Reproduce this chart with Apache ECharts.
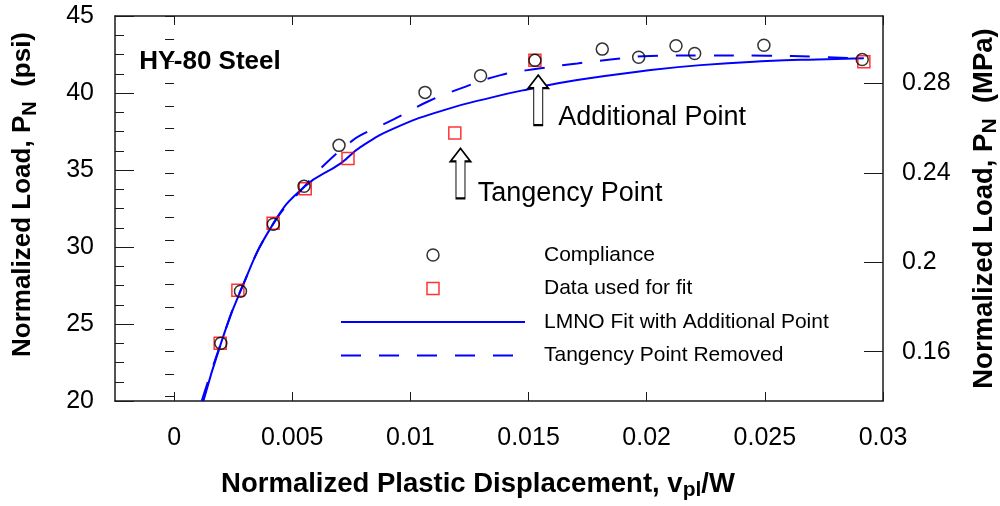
<!DOCTYPE html>
<html><head><meta charset="utf-8">
<script src="https://cdn.jsdelivr.net/npm/echarts@6/dist/echarts.min.js"></script>
<style>html,body{margin:0;padding:0;background:#fff}#c{width:1000px;height:506px}</style>
</head><body><div id="c"></div>
<script>
// ---- data ----
const complianceX = [0.00198, 0.00281, 0.00420, 0.00550, 0.00698, 0.01062, 0.01297, 0.01527, 0.01812, 0.01966, 0.02124, 0.02203, 0.02496, 0.02912];
const complianceY = [23.75, 27.13, 31.48, 33.95, 36.60, 40.04, 41.12, 42.12, 42.85, 42.32, 43.07, 42.57, 43.10, 42.18];
const fitX = [0.00195, 0.00270, 0.00419, 0.00555, 0.00736, 0.01188, 0.01527, 0.02919];
const fitY = [23.75, 27.19, 31.55, 33.78, 35.75, 37.40, 42.12, 42.03];
const lmnoX = [0.00124, 0.00198, 0.00282, 0.00416, 0.00550, 0.00705, 0.00790, 0.00931, 0.01142, 0.01354, 0.01495, 0.01706, 0.02017, 0.02228, 0.02510, 0.02722, 0.02919];
const lmnoY = [20.0, 23.73, 27.19, 31.42, 33.90, 35.43, 36.50, 37.70, 38.89, 39.75, 40.23, 40.84, 41.49, 41.81, 42.07, 42.18, 42.25];
const removedX = [0.00117, 0.00198, 0.00282, 0.00416, 0.00550, 0.00635, 0.00748, 0.00790, 0.00931, 0.01072, 0.01213, 0.01382, 0.01551, 0.01706, 0.01847, 0.02017, 0.02228, 0.02510, 0.02722, 0.02919];
const removedY = [20.0, 23.75, 27.19, 31.42, 33.90, 35.32, 36.83, 37.26, 38.30, 39.43, 40.30, 41.16, 41.60, 41.92, 42.17, 42.40, 42.44, 42.42, 42.35, 42.22];
const xTickValues = [0, 0.005, 0.01, 0.015, 0.02, 0.025, 0.03];
const mpaLabelValues = [0.16, 0.2, 0.24, 0.28];
const mpaMinorValues = [0.14, 0.15, 0.16, 0.17, 0.18, 0.19, 0.2, 0.21, 0.22, 0.23, 0.24, 0.25, 0.26, 0.27, 0.28, 0.29, 0.3, 0.31];
const seriesNames = ['Compliance', 'Data used for fit', 'LMNO Fit with Additional Point', 'Tangency Point Removed'];
const arrowX = [0.01212, 0.01541];
const arrowY = [34.78, 39.54];
const noteText = ['HY-80 Steel', 'Tangency Point', 'Additional Point'];
const noteX = [-0.00150, 0.01283, 0.01624];
const noteY = [42.05, 33.50, 38.40];

// ---- chart ----
const PSI_PER_MPA = 145.038;
const FONT = 'Liberation Sans, Arial, Helvetica, sans-serif';
const zip = (a, b) => a.map((v, i) => [v, b[i]]);
const blue = '#0000ff';
const axisCol = '#1a1a1a';
const clear = 'rgba(0,0,0,0)';

const markData = [];
arrowX.forEach((x, i) => markData.push({
  coord: [x, arrowY[i]],
  symbol: 'path://M10 0 L20 13 L14.5 13 L14.5 50 L5.5 50 L5.5 13 L0 13 Z',
  symbolSize: [20, 50],
  itemStyle: { color: '#fff', borderColor: '#000', borderWidth: 1.5 },
  label: { show: false }
}));
noteText.forEach((t, i) => markData.push({
  coord: [noteX[i], noteY[i]],
  symbol: 'circle', symbolSize: 1,
  itemStyle: { color: clear },
  label: {
    show: true, position: 'right', distance: 0, formatter: t,
    color: '#000', fontFamily: FONT, fontSize: i === 0 ? 26 : 27,
    fontWeight: i === 0 ? 'bold' : 'normal'
  }
}));

const mkRich = (size, sub) => ({
  b: { fontFamily: FONT, fontSize: size, fontWeight: 'bold', color: '#000', lineHeight: 34, verticalAlign: 'middle' },
  s: { fontFamily: FONT, fontSize: sub, fontWeight: 'bold', color: '#000', lineHeight: 20, verticalAlign: 'bottom' }
});
const tickLabel = { color: '#000', fontFamily: FONT, fontSize: 25 };

const option = {
  animation: false,
  backgroundColor: '#fff',
  grid: { left: 115, right: 117, top: 16, bottom: 105, containLabel: false, outerBoundsMode: 'none' },
  legend: {
    orient: 'vertical', left: 340, top: 243, padding: 0,
    itemWidth: 184, itemHeight: 12, itemGap: 9.5,
    selectedMode: false,
    textStyle: { fontFamily: FONT, fontSize: 21, color: '#000', lineHeight: 24, padding: [0, 0, 0, 14] },
    data: [
      { name: seriesNames[0], icon: 'circle', itemStyle: { color: clear, borderColor: '#000', borderWidth: 1.5 } },
      { name: seriesNames[1], icon: 'path://M0 0 L10 0 L10 10 L0 10 Z', itemStyle: { color: clear, borderColor: '#ff0000', borderWidth: 1.5 } },
      { name: seriesNames[2], itemStyle: { color: clear, borderColor: clear, borderWidth: 0, opacity: 0 } },
      { name: seriesNames[3], itemStyle: { color: clear, borderColor: clear, borderWidth: 0, opacity: 0 } }
    ]
  },
  xAxis: [{
    type: 'value', position: 'bottom', min: -0.0025, max: 0.03,
    name: '{b|Normalized Plastic Displacement, v}{s|pl}{b|/W}',
    nameLocation: 'middle', nameGap: 66,
    nameTextStyle: { rich: mkRich(27.5, 21), padding: [0, 42, 0, 0] },
    axisLine: { show: true, onZero: false, lineStyle: { color: axisCol, width: 1.5 } },
    axisTick: { show: true, inside: true, length: 9, customValues: xTickValues, lineStyle: { color: axisCol } },
    axisLabel: Object.assign({ margin: 25, customValues: xTickValues }, tickLabel),
    splitLine: { show: false }
  }, {
    type: 'value', position: 'top', min: -0.0025, max: 0.03,
    axisLine: { show: true, onZero: false, lineStyle: { color: axisCol, width: 1.5 } },
    axisTick: { show: true, inside: true, length: 9, customValues: xTickValues, lineStyle: { color: axisCol } },
    axisLabel: { show: false },
    splitLine: { show: false }
  }],
  yAxis: [{
    type: 'value', position: 'left', min: 20, max: 45, interval: 5,
    name: '{b|Normalized Load, P}{s|N}{b|  (psi)}',
    nameLocation: 'middle', nameRotate: 90, nameGap: 75,
    nameTextStyle: { rich: mkRich(26, 20), padding: [0, 0, 0, 28] },
    axisLine: { show: true, onZero: false, lineStyle: { color: axisCol, width: 1.5 } },
    axisTick: { show: true, inside: true, length: 19, lineStyle: { color: axisCol } },
    minorTick: { show: true, splitNumber: 4, length: 9, lineStyle: { color: axisCol } },
    axisLabel: Object.assign({ margin: 21 }, tickLabel),
    splitLine: { show: false }
  }, {
    type: 'value', position: 'right', min: 20 / PSI_PER_MPA, max: 45 / PSI_PER_MPA,
    name: '{b|Normalized Load, P}{s|N}{b|  (MPa)}',
    nameLocation: 'middle', nameRotate: 90, nameGap: 84,
    nameTextStyle: { rich: mkRich(27.5, 21) },
    axisLine: { show: true, onZero: false, lineStyle: { color: axisCol, width: 1.5 } },
    axisTick: { show: true, inside: true, length: 19, customValues: mpaLabelValues, lineStyle: { color: axisCol } },
    axisLabel: Object.assign({ margin: 19, customValues: mpaLabelValues }, tickLabel),
    splitLine: { show: false }
  }, {
    type: 'value', position: 'right', min: 20 / PSI_PER_MPA, max: 45 / PSI_PER_MPA,
    axisLine: { show: false },
    axisTick: { show: true, inside: true, length: 9, customValues: mpaMinorValues, lineStyle: { color: axisCol } },
    axisLabel: { show: false },
    splitLine: { show: false }
  }],
  series: [{
    name: seriesNames[2], type: 'line', data: zip(lmnoX, lmnoY),
    symbol: 'none', showSymbol: false, smooth: 0.5,
    lineStyle: { color: blue, width: 2 }, itemStyle: { color: blue }, z: 2
  }, {
    name: seriesNames[3], type: 'line', data: zip(removedX, removedY),
    symbol: 'none', showSymbol: false, smooth: 0.5,
    lineStyle: { color: blue, width: 2, type: [20, 18] }, itemStyle: { color: blue }, z: 2
  }, {
    name: seriesNames[1], type: 'scatter', data: zip(fitX, fitY),
    symbol: 'rect', symbolSize: 12,
    itemStyle: { color: clear, borderColor: '#ff0000', borderWidth: 1.5 }, z: 3
  }, {
    name: seriesNames[0], type: 'scatter', data: zip(complianceX, complianceY),
    symbol: 'circle', symbolSize: 12,
    itemStyle: { color: clear, borderColor: '#000', borderWidth: 1.5 }, z: 4,
    markPoint: { silent: true, data: markData }
  }]
};
const chart = echarts.init(document.getElementById('c'), null, { renderer: 'canvas' });
chart.setOption(option);
</script></body></html>
